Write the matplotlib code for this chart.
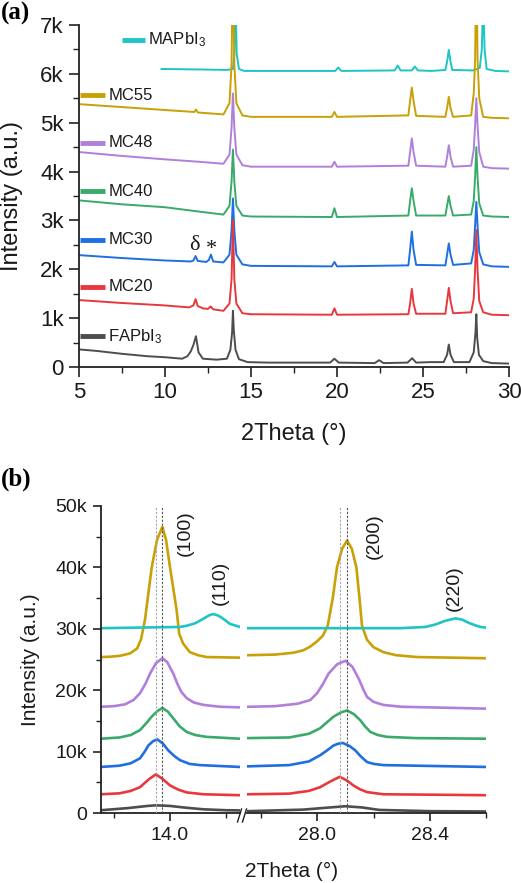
import matplotlib
matplotlib.use('Agg')
import matplotlib.pyplot as plt
from matplotlib.lines import Line2D
from matplotlib.ticker import MultipleLocator, FixedLocator, FixedFormatter

plt.rcParams['font.family'] = ['Liberation Sans', 'DejaVu Sans']
plt.rcParams['mathtext.fontset'] = 'custom'
plt.rcParams['mathtext.rm'] = 'Liberation Sans'
plt.rcParams['mathtext.it'] = 'Liberation Sans:italic'

# ---------------- data ----------------
names = ['FAPbI$_3$', 'MC20', 'MC30', 'MC40', 'MC48', 'MC55', 'MAPbI$_3$']
colors = ['#4d4d4d', '#e8383d', '#1f6fe0', '#3aaa6a', '#b07fdc', '#c9a006', '#1fc4c4']

# panel (a): (2theta, intensity in k counts)
a_fapbi3 = [(5, 0.36), (6, 0.33), (7.5, 0.27), (9, 0.22), (10, 0.2), (11, 0.17), (11.3, 0.22),
            (11.5, 0.32), (11.65, 0.45), (11.8, 0.63), (11.95, 0.3), (12.2, 0.17), (13, 0.15),
            (13.6, 0.17), (13.8, 0.35), (13.9, 0.7), (13.95, 1.15), (14.0, 0.75), (14.1, 0.35),
            (14.3, 0.16), (14.8, 0.1), (16, 0.09), (19.6, 0.09), (19.85, 0.17), (20.1, 0.09),
            (22.2, 0.08), (22.45, 0.14), (22.7, 0.08), (24.1, 0.09), (24.37, 0.18), (24.6, 0.09),
            (25.4, 0.1), (26.2, 0.1), (26.4, 0.25), (26.5, 0.46), (26.6, 0.25), (26.8, 0.1),
            (27.7, 0.1), (27.95, 0.3), (28.05, 0.7), (28.1, 1.08), (28.15, 0.6), (28.25, 0.25),
            (28.5, 0.12), (29, 0.08), (30, 0.07)]
a_mc20 = [(5, 1.37), (7.5, 1.31), (10, 1.26), (11.4, 1.22), (11.65, 1.26), (11.78, 1.39), (11.9, 1.25),
          (12.2, 1.2), (12.5, 1.19), (12.65, 1.24), (12.8, 1.18), (13.4, 1.15), (13.75, 1.3),
          (13.87, 1.8), (13.95, 3.0), (14.03, 1.8), (14.15, 1.3), (14.5, 1.1), (15, 1.08),
          (19.7, 1.07), (19.85, 1.2), (20.0, 1.07), (24.15, 1.08), (24.25, 1.3), (24.35, 1.6),
          (24.45, 1.3), (24.6, 1.09), (26.3, 1.09), (26.4, 1.35), (26.5, 1.62), (26.6, 1.35),
          (26.75, 1.1), (27.8, 1.12), (27.95, 1.4), (28.03, 2.0), (28.1, 2.8), (28.17, 2.0),
          (28.27, 1.35), (28.5, 1.12), (29, 1.07), (30, 1.06)]
a_mc30 = [(5, 2.29), (7.5, 2.23), (10, 2.18), (11.5, 2.16), (11.65, 2.18), (11.78, 2.27), (11.9, 2.17),
          (12.4, 2.15), (12.55, 2.19), (12.67, 2.3), (12.8, 2.16), (13.4, 2.14), (13.75, 2.3),
          (13.87, 2.8), (13.95, 3.45), (14.03, 2.8), (14.15, 2.3), (14.5, 2.1), (15, 2.07),
          (19.7, 2.06), (19.85, 2.15), (20, 2.06), (24.15, 2.08), (24.25, 2.4), (24.35, 2.77),
          (24.45, 2.4), (24.6, 2.09), (26.3, 2.08), (26.4, 2.3), (26.5, 2.53), (26.6, 2.3),
          (26.75, 2.09), (27.8, 2.12), (27.95, 2.4), (28.03, 2.9), (28.1, 3.38), (28.17, 2.9),
          (28.27, 2.35), (28.5, 2.1), (29, 2.06), (30, 2.05)]
a_mc40 = [(5, 3.41), (7.5, 3.33), (10, 3.27), (12, 3.18), (13.4, 3.12), (13.75, 3.3), (13.87, 3.8),
          (13.95, 4.45), (14.03, 3.8), (14.15, 3.3), (14.5, 3.1), (15, 3.08), (19.7, 3.07),
          (19.85, 3.25), (20, 3.07), (24.15, 3.1), (24.25, 3.4), (24.35, 3.66), (24.45, 3.4),
          (24.6, 3.1), (26.3, 3.1), (26.4, 3.3), (26.5, 3.5), (26.6, 3.3), (26.75, 3.1),
          (27.8, 3.12), (27.95, 3.4), (28.03, 3.9), (28.1, 4.5), (28.17, 3.9), (28.27, 3.35),
          (28.5, 3.1), (29, 3.08), (30, 3.07)]
a_mc48 = [(5, 4.4), (7.5, 4.32), (10, 4.25), (12, 4.2), (13.4, 4.16), (13.75, 4.35), (13.87, 4.9),
          (13.95, 5.6), (14.03, 4.9), (14.15, 4.35), (14.5, 4.13), (15, 4.1), (19.7, 4.1),
          (19.85, 4.2), (20, 4.1), (24.15, 4.12), (24.25, 4.4), (24.35, 4.68), (24.45, 4.4),
          (24.6, 4.12), (26.3, 4.1), (26.4, 4.3), (26.5, 4.54), (26.6, 4.3), (26.75, 4.1),
          (27.8, 4.12), (27.95, 4.45), (28.03, 4.95), (28.1, 5.5), (28.17, 4.95), (28.27, 4.4),
          (28.5, 4.1), (29, 4.07), (30, 4.06)]
a_mc55 = [(5, 5.38), (7.5, 5.32), (10, 5.26), (11.7, 5.22), (11.8, 5.27), (11.9, 5.21), (13.4, 5.17),
          (13.75, 5.4), (13.87, 6.2), (13.95, 8.5), (14.03, 6.2), (14.15, 5.4), (14.5, 5.15),
          (15, 5.12), (19.7, 5.12), (19.85, 5.22), (20, 5.12), (24.15, 5.15), (24.25, 5.45),
          (24.35, 5.72), (24.45, 5.45), (24.6, 5.14), (26.3, 5.12), (26.4, 5.3), (26.5, 5.53),
          (26.6, 5.3), (26.75, 5.12), (27.8, 5.15), (27.95, 5.6), (28.03, 6.3), (28.1, 8.5),
          (28.17, 6.3), (28.27, 5.5), (28.5, 5.12), (29, 5.1), (30, 5.09)]
a_mapbi3 = [(9.8, 6.1), (12, 6.09), (13.6, 6.08), (13.95, 6.1), (14.03, 6.4), (14.1, 7.6), (14.17, 6.4),
            (14.3, 6.1), (14.6, 6.06), (19.9, 6.06), (20.07, 6.13), (20.25, 6.06), (23.35, 6.07),
            (23.53, 6.17), (23.7, 6.07), (24.35, 6.07), (24.53, 6.15), (24.7, 6.07), (25.5, 6.06),
            (26.3, 6.08), (26.4, 6.25), (26.5, 6.49), (26.6, 6.25), (26.7, 6.08), (27.9, 6.07),
            (28.3, 6.12), (28.42, 6.5), (28.5, 7.6), (28.58, 6.5), (28.7, 6.1), (29.2, 6.06),
            (30, 6.05)]
a_series = [a_fapbi3, a_mc20, a_mc30, a_mc40, a_mc48, a_mc55, a_mapbi3]

# panel (b): zoomed peaks (2theta, intensity in k counts)
b_fapbi3 = [(13.754, 0.45), (13.85, 0.8), (13.92, 1.15), (13.95, 1.25), (14.0, 1.15), (14.06, 0.85),
            (14.12, 0.6), (14.2, 0.45), (14.25, 0.42), (27.754, 0.3), (27.95, 0.55), (28.03, 0.85),
            (28.1, 1.1), (28.16, 0.9), (28.22, 0.5), (28.4, 0.3), (28.6, 0.25)]
b_mc20 = [(13.754, 3.05), (13.82, 3.2), (13.86, 3.6), (13.893, 4.2), (13.925, 5.5), (13.95, 6.3),
          (13.975, 5.5), (14.0, 4.5), (14.03, 3.8), (14.06, 3.35), (14.12, 3.05), (14.25, 2.9),
          (27.754, 3.05), (27.9, 3.15), (27.97, 3.6), (28.01, 4.2), (28.045, 5.1), (28.08, 5.9),
          (28.105, 5.3), (28.128, 4.5), (28.15, 3.9), (28.177, 3.4), (28.235, 3.05), (28.6, 2.9)]
b_mc30 = [(13.754, 7.5), (13.82, 7.7), (13.86, 8.1), (13.893, 8.9), (13.91, 10.0), (13.923, 11.0),
          (13.94, 11.7), (13.955, 12.0), (13.975, 11.3), (13.994, 10.2), (14.015, 9.3), (14.036, 8.6),
          (14.07, 8.0), (14.107, 7.8), (14.25, 7.5), (27.754, 7.6), (27.9, 7.8), (27.97, 8.4),
          (28.01, 9.4), (28.035, 10.2), (28.058, 11.0), (28.075, 11.3), (28.091, 11.4), (28.115, 10.9),
          (28.135, 10.2), (28.155, 9.2), (28.177, 8.3), (28.2, 8.0), (28.236, 7.8), (28.6, 7.5)]
b_mc40 = [(13.754, 12.1), (13.82, 12.3), (13.86, 12.7), (13.893, 13.5), (13.915, 14.6), (13.935, 15.7),
          (13.955, 16.6), (13.973, 17.1), (13.993, 16.5), (14.012, 15.4), (14.035, 14.1), (14.06, 13.2),
          (14.09, 12.7), (14.13, 12.4), (14.25, 12.1), (27.754, 12.2), (27.9, 12.3), (27.97, 12.9),
          (28.01, 13.8), (28.035, 14.8), (28.058, 15.7), (28.085, 16.4), (28.106, 16.7), (28.13, 16.1),
          (28.153, 15.1), (28.17, 14.1), (28.189, 13.2), (28.215, 12.7), (28.248, 12.4), (28.35, 12.2),
          (28.6, 12.1)]
b_mc48 = [(13.754, 17.3), (13.8, 17.4), (13.84, 17.7), (13.87, 18.4), (13.893, 19.5), (13.912, 21.0),
          (13.929, 22.7), (13.95, 24.4), (13.973, 25.2), (13.99, 24.6), (14.012, 22.7), (14.027, 21.0),
          (14.041, 19.7), (14.06, 18.7), (14.085, 18.0), (14.12, 17.6), (14.18, 17.3), (14.25, 17.2),
          (27.754, 17.3), (27.85, 17.4), (27.93, 17.8), (27.975, 18.4), (27.999, 19.5), (28.02, 21.0),
          (28.04, 22.7), (28.07, 24.2), (28.1, 24.8), (28.125, 23.8), (28.147, 21.9), (28.165, 20.0),
          (28.177, 18.9), (28.2, 18.1), (28.235, 17.6), (28.3, 17.3), (28.6, 17.0)]
b_mc55 = [(13.754, 25.4), (13.786, 25.45), (13.822, 25.6), (13.858, 26.0), (13.883, 26.8), (13.897, 28.3),
          (13.911, 31.5), (13.935, 40), (13.954, 44.5), (13.973, 46.6), (13.986, 44.5), (14.0, 40.1),
          (14.024, 33.0), (14.033, 29.2), (14.047, 27.6), (14.071, 26.2), (14.1, 25.7), (14.131, 25.4),
          (14.25, 25.3), (27.754, 25.7), (27.85, 25.8), (27.915, 26.1), (27.95, 26.5), (27.975, 27.1),
          (28.0, 28.0), (28.02, 28.9), (28.037, 30.5), (28.055, 35), (28.07, 40), (28.088, 43),
          (28.106, 44.4), (28.123, 43), (28.139, 40), (28.15, 35), (28.159, 30.5), (28.177, 28.2),
          (28.2, 27.0), (28.235, 26.2), (28.28, 25.7), (28.355, 25.4), (28.6, 25.2)]
b_mapbi3 = [(13.754, 30.1), (14.036, 30.3), (14.06, 30.5), (14.09, 30.9), (14.11, 31.4), (14.125, 31.8),
            (14.14, 32.2), (14.154, 32.4), (14.17, 32.2), (14.185, 31.8), (14.2, 31.3), (14.214, 30.8),
            (14.25, 30.3), (27.754, 30.1), (28.295, 30.1), (28.384, 30.3), (28.42, 30.7), (28.455, 31.3),
            (28.491, 31.7), (28.515, 31.5), (28.537, 31.0), (28.56, 30.6), (28.58, 30.3), (28.6, 30.2)]
b_series = [b_fapbi3, b_mc20, b_mc30, b_mc40, b_mc48, b_mc55, b_mapbi3]

a_xticks = [5, 10, 15, 20, 25, 30]
a_yticks = [0, 1, 2, 3, 4, 5, 6, 7]
a_ytick_labels = ['0', '1k', '2k', '3k', '4k', '5k', '6k', '7k']
b_yticks = [0, 10, 20, 30, 40, 50]
b_ytick_labels = ['0', '10k', '20k', '30k', '40k', '50k']
b_left_xticks = [14.0]
b_right_xticks = [28.0, 28.4]
b_left_minor = [13.8, 14.2]
b_right_minor = [27.8, 28.2, 28.6]
ref_lines_left = [13.949, 13.973]
ref_lines_right = [28.082, 28.106]
hkl_labels = [('(100)', 'L', 14.053, 45.6), ('(110)', 'L', 14.178, 37.4),
              ('(200)', 'R', 28.203, 45.1), ('(220)', 'R', 28.488, 36.6)]

# ---------------- figure ----------------
W, H = 521, 883
fig = plt.figure(figsize=(W / 100, H / 100), dpi=100)

def fx(px):
    return px / W

def fy(py):
    return 1 - py / H

axis_col = '#222222'

def style(ax, labelsize):
    for s in ('top', 'right'):
        ax.spines[s].set_visible(False)
    for s in ('left', 'bottom'):
        ax.spines[s].set_linewidth(1.3)
        ax.spines[s].set_color(axis_col)
    ax.tick_params(which='major', length=7, width=1.2, labelsize=labelsize, color=axis_col,
                   labelcolor='#1a1a1a', pad=4)
    ax.tick_params(which='minor', length=4, width=1.0, color=axis_col)

# ---- panel (a)
axa = fig.add_axes([fx(79), fy(367), fx(509) - fx(79), fy(25) - fy(367)])
style(axa, 16)
axa.set_xlim(5, 30)
axa.set_ylim(0, 7)
axa.xaxis.set_major_locator(FixedLocator(a_xticks))
axa.xaxis.set_minor_locator(MultipleLocator(2.5))
axa.yaxis.set_major_locator(FixedLocator(a_yticks))
axa.yaxis.set_major_formatter(FixedFormatter(a_ytick_labels))
axa.yaxis.set_minor_locator(MultipleLocator(0.5))

for data, col in reversed(list(zip(a_series, colors))):
    xs = [p[0] for p in data]
    ys = [p[1] for p in data]
    axa.plot(xs, ys, color=col, lw=1.4, solid_joinstyle='round')

# series labels
lab_y = [0.63, 1.64, 2.6, 3.6, 4.59, 5.56, 6.69]
for i, (nm, col, yv) in enumerate(zip(names, colors, lab_y)):
    if i == 6:
        x0, x1, xt = 7.48, 8.84, 9.03
    else:
        x0, x1, xt = 5.06, 6.5, 6.7
    axa.plot([x0, x1], [yv, yv], color=col, lw=3.5, solid_capstyle='butt', clip_on=False)
    axa.text(xt, yv, nm, fontsize=12, va='center', ha='left', color='#1a1a1a')

axa.text(11.72, 2.49, 'δ', fontsize=16, family=['Liberation Serif', 'DejaVu Serif'],
         ha='center', va='center', color='#1a1a1a')
axa.text(12.72, 2.41, '*', fontsize=16, family=['Liberation Serif', 'DejaVu Serif'],
         ha='center', va='center', color='#1a1a1a')

fig.text(fx(294), fy(434), '2Theta (°)', fontsize=17, ha='center', va='center', color='#1a1a1a')
fig.text(fx(12), fy(196), 'Intensity (a.u.)', fontsize=17, rotation=90, ha='center', va='center',
         color='#1a1a1a')
fig.text(fx(1), fy(2), '(a)', fontsize=18, fontweight='bold', family=['Liberation Serif', 'DejaVu Serif'],
         ha='left', va='top')

# ---- panel (b)
bb, bt = 813, 506
axl = fig.add_axes([fx(101), fy(bb), fx(240) - fx(101), fy(bt) - fy(bb)])
axr = fig.add_axes([fx(247), fy(bb), fx(486) - fx(247), fy(bt) - fy(bb)])
for ax in (axl, axr):
    style(ax, 14)
    ax.set_ylim(0, 50)
    ax.tick_params(which='major', length=6)
    ax.tick_params(which='minor', length=3.5)
axl.set_xlim(13.754, 14.25)
axr.set_xlim(27.75, 28.6)
axl.xaxis.set_major_locator(FixedLocator(b_left_xticks))
axl.xaxis.set_major_formatter(FixedFormatter(['%.1f' % v for v in b_left_xticks]))
axl.xaxis.set_minor_locator(FixedLocator(b_left_minor))
axr.xaxis.set_major_locator(FixedLocator(b_right_xticks))
axr.xaxis.set_major_formatter(FixedFormatter(['%.1f' % v for v in b_right_xticks]))
axr.xaxis.set_minor_locator(FixedLocator(b_right_minor))
axl.yaxis.set_major_locator(FixedLocator(b_yticks))
axl.yaxis.set_major_formatter(FixedFormatter(b_ytick_labels))
axl.yaxis.set_minor_locator(MultipleLocator(5))
axr.spines['left'].set_visible(False)
axr.tick_params(axis='y', which='both', left=False, labelleft=False)

for ax in (axl, axr):
    for data, col in zip(b_series, colors):
        xs = [p[0] for p in data]
        ys = [p[1] for p in data]
        ax.plot(xs, ys, color=col, lw=1.9, solid_joinstyle='round')
for xv, c in zip(ref_lines_left, ['#a8a8a8', '#555555']):
    axl.axvline(xv, color=c, lw=0.8, ls=(0, (2, 1.5)), zorder=3)
for xv, c in zip(ref_lines_right, ['#a8a8a8', '#555555']):
    axr.axvline(xv, color=c, lw=0.8, ls=(0, (2, 1.5)), zorder=3)

for txt, side, xv, yv in hkl_labels:
    ax = axl if side == 'L' else axr
    ax.text(xv, yv, txt, rotation=90, fontsize=14, ha='center', va='center', color='#1a1a1a',
            clip_on=False)

# axis break marks
for x0 in (237.5, 242.5):
    fig.add_artist(Line2D([fx(x0), fx(x0 + 4)], [fy(822), fy(809)], color=axis_col, lw=1.0))

fig.text(fx(292), fy(871), '2Theta (°)', fontsize=15, ha='center', va='center', color='#1a1a1a')
fig.text(fx(30), fy(660), 'Intensity (a.u.)', fontsize=15, rotation=90, ha='center', va='center',
         color='#1a1a1a')
fig.text(fx(1), fy(468), '(b)', fontsize=18, fontweight='bold', family=['Liberation Serif', 'DejaVu Serif'],
         ha='left', va='top')

fig.savefig('out.png', dpi=100)
